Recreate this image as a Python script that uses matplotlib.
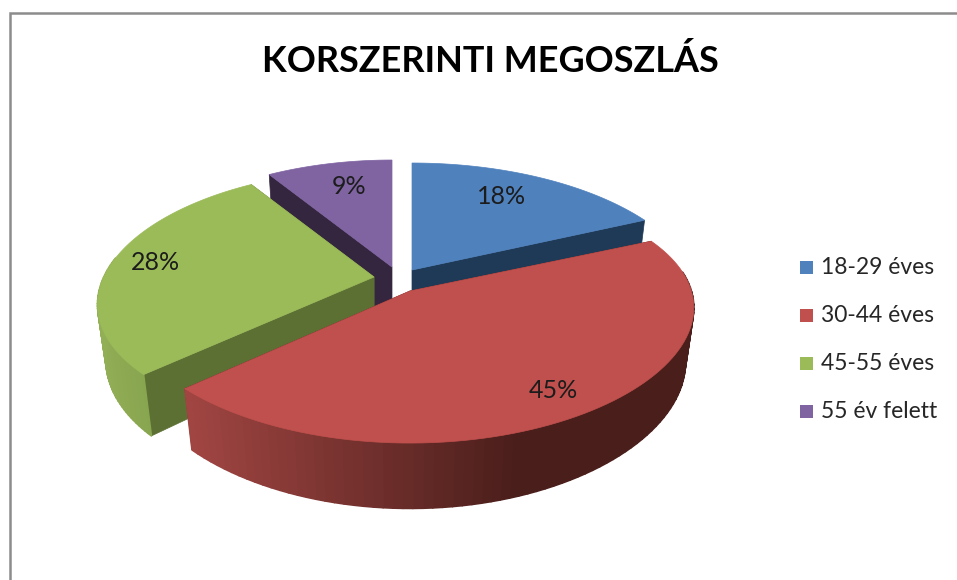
import numpy as np
import matplotlib
matplotlib.use('Agg')
import matplotlib.pyplot as plt
from matplotlib.collections import PolyCollection
from matplotlib.colors import to_rgb
from matplotlib.patches import Polygon, Rectangle

# ── Data ──────────────────────────────────────────────────────────────────────
TITLE = 'KORSZERINTI MEGOSZLÁS'
categories = ['18-29 éves', '30-44 éves', '45-55 éves', '55 év felett']
shares = [18, 45, 28, 9]
pct_labels = ['18%', '45%', '28%', '9%']

# ── Style / layout (pixels of the 957x580 picture) ────────────────────────────
TOP_COLORS = ['#4f81bd', '#c0504d', '#9bbb59', '#8064a2']
EDGE_COLORS = ['#1f3a57', '#4b1f1c', '#5c7033', '#352640']
WALL_LIGHT = ['#3f6897', '#a04542', '#90ad55', '#66508a']
WALL_DARK = ['#1f3a57', '#4a1e1b', '#7c9846', '#352640']
APEX = [(412, 270), (410, 291), (374, 277), (392, 267)]
PCT_POS = [(502, 197), (553, 390), (155, 263), (349, 186)]
DRAW_ORDER = [3, 0, 2, 1]

RX, RY, PERSP = 280.0, 125.6, 0.174
XSCALE = [1.0, 1.005, 0.965, 0.965]
XPERSP = [0.21, 0.13, 0.212, 0.212]
DEPTH, SHRINK = 54.0, 0.03

plt.rcParams['font.family'] = ['Lato', 'DejaVu Sans']


def project(i, ang, depth=0.0):
    # clockwise angle from 12 o'clock on the disc -> screen position
    u, v = np.sin(ang), np.cos(ang)
    wx = 1 + XPERSP[i] * v + (SHRINK if depth else 0)
    wy = 1 + PERSP * v
    return APEX[i][0] + RX * XSCALE[i] * u / wx, APEX[i][1] + (-RY * v + depth) / wy


def mix(c1, c2, t):
    a, b = np.array(to_rgb(c1)), np.array(to_rgb(c2))
    return tuple(a + (b - a) * t)


fig = plt.figure(figsize=(9.57, 5.8), dpi=100)
ax = fig.add_axes([0, 0, 1, 1])
ax.set_xlim(0, 957)
ax.set_ylim(580, 0)
ax.axis('off')

# chart frame, cut off by the screenshot on the right and at the bottom
ax.plot([10, 10, 957], [580, 13, 13], color='#8c8c8c', lw=1.8, solid_joinstyle='miter')

edges = np.radians(np.cumsum([0] + shares) / sum(shares) * 360)

for i in DRAW_ORDER:
    apex = APEX[i]
    ang = np.linspace(edges[i], edges[i + 1], 90)
    tx, ty = project(i, ang)
    bx, by = project(i, ang, DEPTH)

    # radial walls (an edge pointing straight back shows no wall)
    for k in (0, -1):
        if abs(tx[k] - apex[0]) < 5:
            continue
        ax.add_patch(Polygon([apex, (tx[k], ty[k]), (bx[k], by[k]),
                              (apex[0], apex[1] + DEPTH)],
                             fc=EDGE_COLORS[i], ec=EDGE_COLORS[i], lw=0.5))

    # outer wall, shaded left to right
    polys, cols = [], []
    xmin, xmax = bx.min(), bx.max()
    for k in range(len(ang) - 1):
        if np.cos((ang[k] + ang[k + 1]) / 2) >= 0.15:
            continue  # faces away from the viewer
        polys.append([(tx[k], ty[k]), (tx[k + 1], ty[k + 1]),
                      (bx[k + 1], by[k + 1]), (bx[k], by[k])])
        t = (tx[k] - xmin) / max(xmax - xmin, 1)
        cols.append(mix(WALL_LIGHT[i], WALL_DARK[i], min(t / 0.67, 1)))
    if polys:
        ax.add_collection(PolyCollection(polys, facecolors=cols, edgecolors=cols, linewidths=1.2))

    # top face
    ax.add_patch(Polygon(np.vstack([[apex], np.column_stack([tx, ty])]),
                         fc=TOP_COLORS[i], ec=TOP_COLORS[i], lw=0.5,
                         zorder=2 + DRAW_ORDER.index(i) * 0.01))

for (x, y), lab in zip(PCT_POS, pct_labels):
    ax.text(x, y, lab, ha='center', va='center', fontsize=18, color='#1c1c1c', zorder=5)

ax.text(490.5, 61, TITLE, ha='center', va='center', fontsize=25.9, fontweight='bold', color='black')

# ── Legend ────────────────────────────────────────────────────────────────────
for n, (name, col) in enumerate(zip(categories, TOP_COLORS)):
    y = 267 + n * 48
    ax.add_patch(Rectangle((800, y - 6.5), 13, 13, fc=col, ec='none'))
    ax.text(821, y, name, ha='left', va='center', fontsize=16.5, color='#262626')

fig.savefig('out.png', dpi=100)
